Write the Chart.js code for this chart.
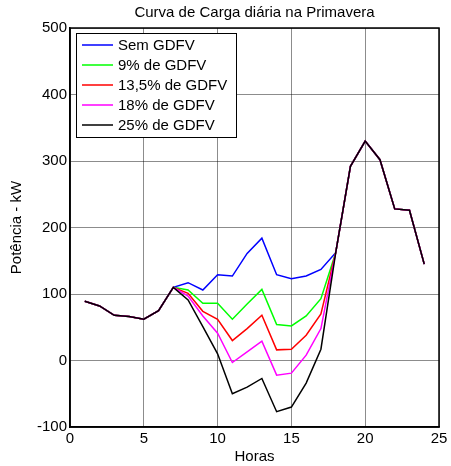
<!DOCTYPE html>
<html>
<head>
<meta charset="utf-8">
<script src="https://cdn.jsdelivr.net/npm/chart.js@4/dist/chart.umd.min.js"></script>
<style>
  html, body { margin: 0; padding: 0; background: #fff; }
  #wrap { width: 451px; height: 466px; }
</style>
</head>
<body>
<div id="wrap"><canvas id="loadChart" width="451" height="466"></canvas></div>
<script>
// Horas do dia
const hours = [1, 2, 3, 4, 5, 6, 7, 8, 9, 10, 11, 12, 13, 14, 15, 16, 17, 18, 19, 20, 21, 22, 23, 24];

// potência (kW) por cenário
const semGDFV  = [89, 82, 68, 66, 62, 75, 110, 117, 106, 129, 127, 161, 184, 129, 123, 127, 137, 162, 292, 330, 302, 228, 226, 145];
const gdfv9    = [89, 82, 68, 66, 62, 75, 110, 106, 86, 86, 62, 85, 107, 54, 52, 67, 93, 162, 292, 330, 302, 228, 226, 145];
const gdfv13_5 = [89, 82, 68, 66, 62, 75, 110, 101, 74, 62, 30, 48, 68, 16, 17, 38, 70, 162, 292, 330, 302, 228, 226, 145];
const gdfv18   = [89, 82, 68, 66, 62, 75, 110, 97, 67, 41, -3, 13, 29, -22, -19, 8, 48, 162, 292, 330, 302, 228, 226, 145];
const gdfv25   = [89, 82, 68, 66, 62, 75, 110, 91, 51, 10, -50, -40, -27, -77, -70, -34, 17, 162, 292, 330, 302, 228, 226, 145];

const seriesNames = ['Sem GDFV', '9% de GDFV', '13,5% de GDFV', '18% de GDFV', '25% de GDFV'];
const seriesColors = ['#0000ff', '#00ff00', '#ff0000', '#ff00ff', '#000000'];
const seriesValues = [semGDFV, gdfv9, gdfv13_5, gdfv18, gdfv25];

const xTicks = [0, 5, 10, 15, 20, 25];
const yTicks = [-100, 0, 100, 200, 300, 400, 500];

const FONT = 'Arial, "Liberation Sans", sans-serif';

// caixa do gráfico + legenda dentro da área
const boxLegend = {
    id: 'boxLegend',
    afterDraw(chart) {
        const ctx = chart.ctx;
        const a = chart.chartArea;
        ctx.save();
        ctx.strokeStyle = '#000';
        ctx.lineWidth = 1.5;
        ctx.strokeRect(a.left, a.top, a.right - a.left, a.bottom - a.top);

        // legenda
        const lx = a.left + 6, ly = a.top + 5, lw = 160, lh = 104;
        ctx.fillStyle = '#fff';
        ctx.fillRect(lx, ly, lw, lh);
        ctx.lineWidth = 1;
        ctx.strokeStyle = '#000';
        ctx.strokeRect(lx + 0.5, ly + 0.5, lw, lh);
        ctx.font = '15px ' + FONT;
        ctx.textBaseline = 'middle';
        chart.data.datasets.forEach((ds, i) => {
            const y = ly + 12 + i * 20;
            ctx.strokeStyle = ds.borderColor;
            ctx.lineWidth = 1.5;
            ctx.beginPath();
            ctx.moveTo(lx + 6, y);
            ctx.lineTo(lx + 37, y);
            ctx.stroke();
            ctx.fillStyle = '#000';
            ctx.fillText(ds.label, lx + 42, y + 1);
        });
        ctx.restore();
    }
};

const ctx = document.getElementById('loadChart').getContext('2d');
new Chart(ctx, {
    type: 'line',
    data: {
        datasets: seriesValues.map((vals, i) => ({
            label: seriesNames[i],
            data: hours.map((h, j) => ({ x: h, y: vals[j] })),
            borderColor: seriesColors[i],
            backgroundColor: seriesColors[i],
            borderWidth: 1.5,
            pointRadius: 0,
            tension: 0,
            fill: false,
            order: seriesValues.length - i
        }))
    },
    options: {
        responsive: false,
        animation: false,
        layout: { padding: { left: 8, right: 12, top: 0, bottom: 0 } },
        plugins: {
            legend: { display: false },
            tooltip: { enabled: false },
            title: {
                display: true,
                fullSize: false,
                text: 'Curva de Carga diária na Primavera',
                color: '#000',
                font: { family: FONT, size: 15, weight: 'normal' },
                padding: { top: 4, bottom: 6 }
            }
        },
        scales: {
            x: {
                type: 'linear',
                min: 0,
                max: 25,
                afterBuildTicks: s => { s.ticks = xTicks.map(v => ({ value: v })); },
                ticks: { color: '#000', font: { family: FONT, size: 15 }, padding: 3, maxRotation: 0 },
                grid: { color: 'rgba(0,0,0,0.45)', lineWidth: 1, drawTicks: false },
                border: { color: '#000', width: 1.5 },
                title: { display: true, text: 'Horas', color: '#000', font: { family: FONT, size: 15 }, padding: { top: 2, bottom: 0 } },
                afterFit: s => { s.height = 39; }
            },
            y: {
                min: -100,
                max: 500,
                afterBuildTicks: s => { s.ticks = yTicks.map(v => ({ value: v })); },
                ticks: { color: '#000', font: { family: FONT, size: 15 }, padding: 3 },
                grid: { color: 'rgba(0,0,0,0.45)', lineWidth: 1, drawTicks: false },
                border: { color: '#000', width: 1.5 },
                title: { display: true, text: 'Potência - kW', color: '#000', font: { family: FONT, size: 15 }, padding: { top: 0, bottom: 4 } },
                afterFit: s => { s.width = 62; }
            }
        }
    },
    plugins: [boxLegend]
});
</script>
</body>
</html>
